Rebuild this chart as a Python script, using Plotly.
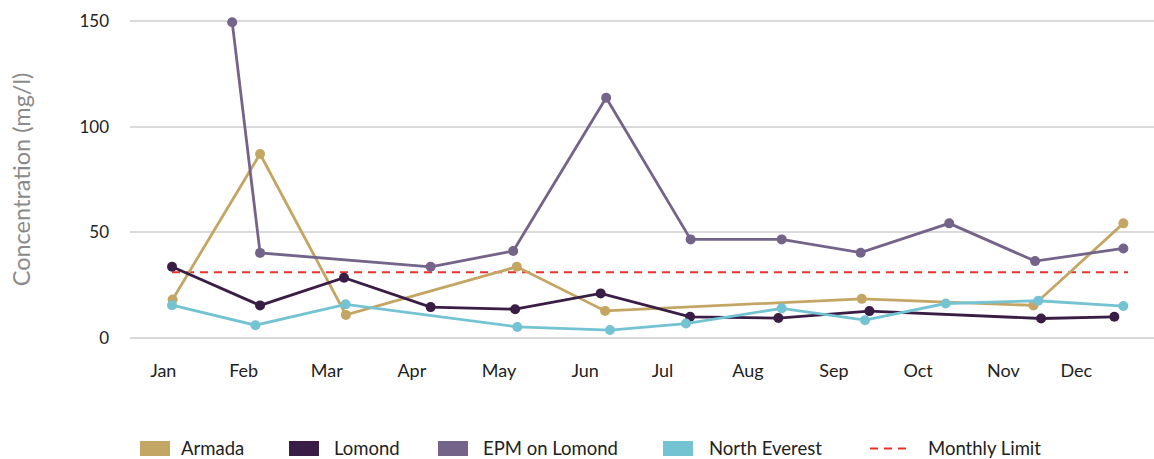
import plotly.graph_objects as go

# ---- data (x = day of year of each sample) ----
armada_days = [3.4, 35.4, 66.8, 129.3, 161.6, 255.5, 318.3, 351.2]
armada_vals = [18.1, 87.1, 10.8, 33.6, 12.7, 18.4, 15.3, 54.2]

lomond_days = [3.2, 35.4, 66.1, 97.8, 128.7, 160.0, 192.7, 225.0, 258.3, 321.1, 347.9]
lomond_vals = [33.6, 15.3, 28.4, 14.5, 13.5, 21.0, 9.9, 9.3, 12.6, 9.1, 9.9]

epm_days = [25.2, 35.4, 97.8, 128.0, 162.0, 192.9, 226.2, 255.1, 287.5, 318.9, 351.2]
epm_vals = [149.6, 40.2, 33.6, 41.1, 113.8, 46.6, 46.6, 40.3, 54.2, 36.3, 42.3]

everest_days = [3.2, 33.7, 66.7, 129.5, 163.4, 191.2, 226.2, 256.7, 286.2, 320.1, 351.2]
everest_vals = [15.4, 5.9, 15.8, 5.1, 3.6, 6.7, 13.9, 8.3, 16.2, 17.5, 15.0]

limit_days = [3.2, 352.9]
limit_vals = [31, 31]

month_labels = ["Jan", "Feb", "Mar", "Apr", "May", "Jun",
                "Jul", "Aug", "Sep", "Oct", "Nov", "Dec"]
month_ticks = [0, 29.4, 59.8, 90.9, 122.8, 154.3, 182.6, 213.9, 245.3, 276.1, 307.3, 334.0]

series_names = ["Armada", "Lomond", "EPM on Lomond", "North Everest"]
series_colors = ["#C4A664", "#3A1D44", "#746489", "#74C3D3"]
limit_name = "Monthly Limit"
limit_color = "#E8322B"

# ---- figure ----
L, R, T, B = 130, 0, 15, 115
W, H = 1154, 459
plot_w = W - L - R
plot_h = H - T - B

fig = go.Figure()
fig.add_trace(go.Scatter(
    x=limit_days, y=limit_vals, name=limit_name, mode="lines",
    line=dict(color=limit_color, width=2, dash="8px,6px"),
    showlegend=False, hoverinfo="skip"))

all_days = [armada_days, lomond_days, epm_days, everest_days]
all_vals = [armada_vals, lomond_vals, epm_vals, everest_vals]
for name, color, xs, ys in zip(series_names, series_colors, all_days, all_vals):
    fig.add_trace(go.Scatter(
        x=xs, y=ys, name=name, mode="lines+markers",
        line=dict(color=color, width=2.8),
        marker=dict(color=color, size=10),
        cliponaxis=False, showlegend=False))

FONT = "Lato, 'Open Sans', sans-serif"
TXT = "#222222"

fig.update_layout(
    width=W, height=H,
    margin=dict(l=L, r=R, t=T, b=B),
    paper_bgcolor="white", plot_bgcolor="white",
    font=dict(family=FONT, size=17, color=TXT),
    showlegend=False,
    xaxis=dict(
        range=[-12.18, 362.4],
        tickvals=month_ticks, ticktext=month_labels,
        showgrid=False, zeroline=False, showline=False,
        ticks="", ticklabelstandoff=14,
        tickfont=dict(size=18, color=TXT),
        fixedrange=True),
    yaxis=dict(
        range=[-3, 153], tickvals=[0, 50, 100, 150],
        showgrid=True, gridcolor="#DADADA", gridwidth=1.5,
        zeroline=False, showline=False, ticks="",
        ticklabelstandoff=20,
        tickfont=dict(size=17, color=TXT),
        title=dict(text="Concentration (mg/l)", standoff=42,
                   font=dict(size=23.5, color="#8A8A8A")),
        fixedrange=True),
)

# ---- custom legend below the plot ----
legend_y_px = 448.5
ly = (H - B - legend_y_px) / plot_h  # paper y

def px_to_paper_x(px):
    return (px - L) / plot_w

swatch_left = [140, 289, 438, 663]
text_left = [180, 333, 482, 708]
for name, color, sx, tx in zip(series_names, series_colors, swatch_left, text_left):
    fig.add_shape(type="rect", xref="paper", yref="paper",
                  xsizemode="pixel", ysizemode="pixel",
                  xanchor=0, yanchor=ly,
                  x0=sx - L, x1=sx - L + 30, y0=-7.5, y1=7.5,
                  fillcolor=color, line=dict(width=0))
    fig.add_annotation(x=px_to_paper_x(tx), y=ly, xref="paper", yref="paper",
                       text=name, showarrow=False, xanchor="left", yanchor="middle",
                       font=dict(size=18.5, color=TXT), borderpad=0)

fig.add_shape(type="line", xref="paper", yref="paper",
              xsizemode="pixel", ysizemode="pixel",
              xanchor=0, yanchor=ly,
              x0=870 - L, x1=907 - L, y0=0, y1=0,
              line=dict(color=limit_color, width=2, dash="8px,6px"))
fig.add_annotation(x=px_to_paper_x(927), y=ly, xref="paper", yref="paper",
                   text=limit_name, showarrow=False, xanchor="left", yanchor="middle",
                   font=dict(size=18.5, color=TXT), borderpad=0)

fig.write_html("out.html",
               config={"displayModeBar": False},
               post_script="document.body.style.margin='0';document.body.style.padding='0';")
